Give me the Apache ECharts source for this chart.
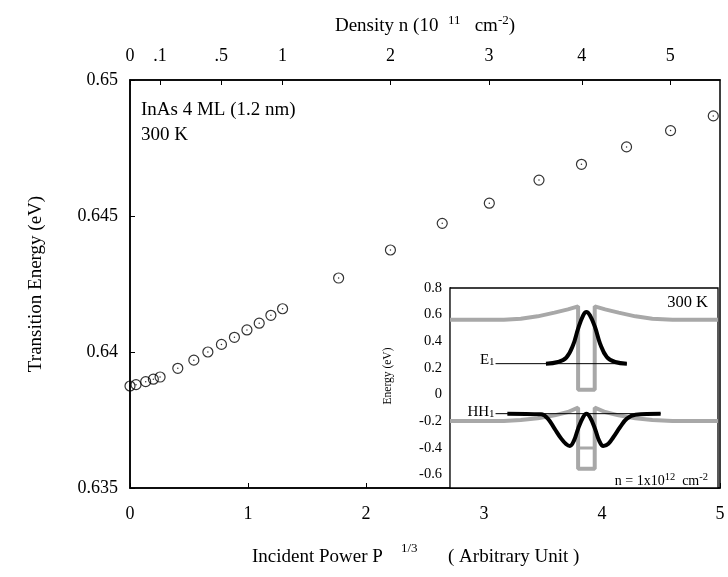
<!DOCTYPE html>
<html><head><meta charset="utf-8">
<script src="https://cdn.jsdelivr.net/npm/echarts@6/dist/echarts.min.js"></script>
<style>html,body{margin:0;padding:0;background:#fff}#c{width:728px;height:577px}</style>
</head><body><div id="c"></div>
<script>
// ---- main data: Incident Power P^1/3 vs transition energy (eV)
const powerX = [0, 0.051, 0.133, 0.198, 0.255, 0.405, 0.541, 0.660, 0.775, 0.885, 0.991, 1.095, 1.194, 1.293,
                1.768, 2.207, 2.646, 3.045, 3.466, 3.826, 4.208, 4.581, 4.943];
const energyY = [0.63875, 0.63880, 0.63891, 0.63900, 0.63908, 0.63940, 0.63970, 0.64000, 0.64028, 0.64054, 0.64081, 0.64106, 0.64135, 0.64159,
                 0.64272, 0.64375, 0.64473, 0.64547, 0.64632, 0.64690, 0.64754, 0.64814, 0.64868];
// ---- top axis: density n (1e11 cm^-2) tick positions in P^1/3 units
const densityTickPos = [0, 0.255, 0.773, 1.293, 2.207, 3.042, 3.829, 4.579];
const densityTickLabels = ['0', '.1', '.5', '1', '2', '3', '4', '5'];
const energyTicks = [0.635, 0.64, 0.645, 0.65];
const powerTicks = [0, 1, 2, 3, 4, 5];

// ---- inset: band profile (position in % of inset width, energy eV)
const cbPos = [0, 20.1, 26.4, 32.7, 39.0, 44.0, 47.8, 47.8, 54.0, 54.0, 57.9, 62.9, 69.2, 75.5, 83.0, 100];
const cbE   = [0.5625, 0.5625, 0.57, 0.5875, 0.615, 0.64, 0.6625, 0.0375, 0.0375, 0.6625, 0.64, 0.615, 0.5875, 0.57, 0.5625, 0.5625];
const vbPos = [0, 20.1, 26.4, 32.7, 39.0, 44.0, 47.8, 47.8, 54.0, 54.0, 57.9, 62.9, 69.2, 75.5, 83.0, 100];
const vbE   = [-0.1975, -0.1975, -0.19, -0.1775, -0.155, -0.13, -0.0975, -0.555, -0.555, -0.0975, -0.13, -0.155, -0.1775, -0.19, -0.1975, -0.1975];
const lhPos = [47.8, 54.0];
const lhE   = [-0.40, -0.40];
const e1Pos = [35.8, 40.3, 43.4, 45.9, 47.8, 49.7, 50.9, 52.2, 54.1, 56.0, 58.5, 61.6, 66.0];
const e1Psi = [0.2325, 0.245, 0.2775, 0.37, 0.495, 0.595, 0.62, 0.595, 0.5075, 0.3825, 0.2825, 0.245, 0.2325];
const hhPos = [21.4, 34.0, 36.5, 39.0, 41.5, 43.4, 44.7, 46.3, 47.8, 49.7, 50.9, 52.2, 54.1, 55.6, 57.2, 59.1, 61.0, 63.5, 66.0, 69.2, 78.6];
const hhPsi = [-0.1425, -0.1475, -0.18, -0.255, -0.33, -0.3725, -0.385, -0.3425, -0.255, -0.1675, -0.1425, -0.1675, -0.255, -0.3425, -0.385, -0.3675, -0.3175, -0.2425, -0.18, -0.15, -0.1425];
const e1Level = [[17, 0.2325], [66, 0.2325]];
const hhLevel = [[17, -0.1425], [78.6, -0.1425]];
const insetTicks = [-0.6, -0.4, -0.2, 0, 0.2, 0.4, 0.6, 0.8];

const zip = (a, b) => a.map((v, i) => [v, b[i]]);
const FONT = 'Liberation Serif';
const GRAY = '#a8a8a8';

const chart = echarts.init(document.getElementById('c'));
const option = {
  animation: false,
  backgroundColor: '#fff',
  textStyle: { fontFamily: FONT, color: '#000' },
  grid: [
    { left: 130, top: 80, width: 590, height: 408, show: true, borderColor: '#000', borderWidth: 1.5, backgroundColor: 'transparent' },
    { left: 450, top: 288, width: 268, height: 200, show: true, borderColor: '#000', borderWidth: 1.3, backgroundColor: '#fff', z: 5 }
  ],
  xAxis: [
    { type: 'value', gridIndex: 0, min: 0, max: 5, interval: 1, position: 'bottom',
      axisLine: { show: true, lineStyle: { color: '#000', width: 1.5 } },
      axisTick: { show: true, inside: true, length: 5, lineStyle: { color: '#000' }, customValues: powerTicks },
      axisLabel: { fontFamily: FONT, fontSize: 18, color: '#000', margin: 17, customValues: powerTicks },
      splitLine: { show: false } },
    { type: 'value', gridIndex: 0, min: 0, max: 5, position: 'top',
      axisLine: { show: true, lineStyle: { color: '#000', width: 1.5 } },
      axisTick: { show: true, inside: true, length: 5, lineStyle: { color: '#000' }, customValues: densityTickPos },
      axisLabel: { fontFamily: FONT, fontSize: 18, color: '#000', margin: 15, customValues: densityTickPos,
        formatter: v => { const i = densityTickPos.findIndex(p => Math.abs(p - v) < 1e-6); return i >= 0 ? densityTickLabels[i] : ''; } },
      splitLine: { show: false } },
    { type: 'value', gridIndex: 1, min: 0, max: 100, show: false }
  ],
  yAxis: [
    { type: 'value', gridIndex: 0, min: 0.635, max: 0.65, interval: 0.005,
      axisLine: { show: true, lineStyle: { color: '#000', width: 1.5 } },
      axisTick: { show: true, inside: true, length: 5, lineStyle: { color: '#000' }, customValues: energyTicks },
      axisLabel: { fontFamily: FONT, fontSize: 18, color: '#000', margin: 12, customValues: energyTicks,
        formatter: v => String(+v.toFixed(3)) },
      splitLine: { show: false } },
    { type: 'value', gridIndex: 1, min: -0.7, max: 0.8,
      axisLine: { show: true, lineStyle: { color: '#000', width: 1.3 } },
      axisTick: { show: true, inside: true, length: 4, lineStyle: { color: '#000' }, customValues: insetTicks },
      axisLabel: { fontFamily: FONT, fontSize: 14.5, color: '#000', margin: 8, customValues: insetTicks,
        formatter: v => Math.abs(v) < 1e-9 ? '0' : v.toFixed(1) },
      splitLine: { show: false } }
  ],
  series: [
    { type: 'scatter', xAxisIndex: 0, yAxisIndex: 0, data: zip(powerX, energyY), symbol: 'circle', symbolSize: 10,
      itemStyle: { color: 'rgba(255,255,255,0)', borderColor: '#000', borderWidth: 1.2 }, z: 3 },
    { type: 'scatter', xAxisIndex: 0, yAxisIndex: 0, data: zip(powerX, energyY), symbol: 'circle', symbolSize: 1.5,
      itemStyle: { color: '#000' }, z: 3 },
    { type: 'line', xAxisIndex: 2, yAxisIndex: 1, data: zip(cbPos, cbE), showSymbol: false, lineStyle: { color: GRAY, width: 4 }, z: 6 },
    { type: 'line', xAxisIndex: 2, yAxisIndex: 1, data: zip(vbPos, vbE), showSymbol: false, lineStyle: { color: GRAY, width: 4 }, z: 6 },
    { type: 'line', xAxisIndex: 2, yAxisIndex: 1, data: zip(lhPos, lhE), showSymbol: false, lineStyle: { color: GRAY, width: 3 }, z: 6 },
    { type: 'line', xAxisIndex: 2, yAxisIndex: 1, data: e1Level, showSymbol: false, lineStyle: { color: '#000', width: 1 }, z: 7 },
    { type: 'line', xAxisIndex: 2, yAxisIndex: 1, data: hhLevel, showSymbol: false, lineStyle: { color: '#000', width: 1 }, z: 7 },
    { type: 'line', xAxisIndex: 2, yAxisIndex: 1, data: zip(e1Pos, e1Psi), smooth: 0.4, showSymbol: false, lineStyle: { color: '#000', width: 4 }, z: 8 },
    { type: 'line', xAxisIndex: 2, yAxisIndex: 1, data: zip(hhPos, hhPsi), smooth: 0.4, showSymbol: false, lineStyle: { color: '#000', width: 4 }, z: 8 }
  ]
};
chart.setOption(option);

const e1px = chart.convertToPixel({ gridIndex: 1 }, e1Level[0]);
const hhpx = chart.convertToPixel({ gridIndex: 1 }, hhLevel[0]);
const T = (o) => Object.assign({ type: 'text', z: 20 }, o);
chart.setOption({
  graphic: [
    T({ left: 141, top: 101, style: { text: 'InAs 4 ML (1.2 nm)', font: '19px ' + FONT, fill: '#000' } }),
    T({ left: 141, top: 126, style: { text: '300 K', font: '19px ' + FONT, fill: '#000' } }),
    T({ x: 425, y: 26, style: { text: 'Density n (10  {s|11}   cm{s|-2})', font: '19px ' + FONT, fill: '#000', align: 'center', verticalAlign: 'middle',
        rich: { s: { fontSize: 13, fontFamily: FONT, padding: [0, 0, 10, 0] } } } }),
    T({ x: 252, y: 557, style: { text: 'Incident Power P', font: '19px ' + FONT, fill: '#000', align: 'left', verticalAlign: 'middle' } }),
    T({ x: 401, y: 549, style: { text: '1/3', font: '13px ' + FONT, fill: '#000', align: 'left', verticalAlign: 'middle' } }),
    T({ x: 448, y: 557, style: { text: '( Arbitrary Unit )', font: '19px ' + FONT, fill: '#000', align: 'left', verticalAlign: 'middle' } }),
    T({ x: 36, y: 284, rotation: Math.PI / 2, style: { text: 'Transition Energy (eV)', font: '19px ' + FONT, fill: '#000', align: 'center', verticalAlign: 'middle' } }),
    T({ x: 388, y: 376, rotation: Math.PI / 2, style: { text: 'Energy (eV)', font: '11.5px ' + FONT, fill: '#000', align: 'center', verticalAlign: 'middle' } }),
    T({ x: 708, y: 303, style: { text: '300 K', font: '16.5px ' + FONT, fill: '#000', align: 'right', verticalAlign: 'middle' } }),
    T({ x: 708, y: 481, style: { text: 'n = 1x10{s|12}  cm{s|-2}', font: '14px ' + FONT, fill: '#000', align: 'right', verticalAlign: 'middle',
        rich: { s: { fontSize: 10.5, fontFamily: FONT, padding: [0, 0, 8, 0] } } } }),
    T({ x: e1px[0] - 1, y: e1px[1] - 4, style: { text: 'E{s|1}', font: '15px ' + FONT, fill: '#000', align: 'right', verticalAlign: 'middle',
        rich: { s: { fontSize: 11, fontFamily: FONT, padding: [4, 0, 0, 0] } } } }),
    T({ x: hhpx[0] - 1, y: hhpx[1] - 2, style: { text: 'HH{s|1}', font: '15px ' + FONT, fill: '#000', align: 'right', verticalAlign: 'middle',
        rich: { s: { fontSize: 11, fontFamily: FONT, padding: [4, 0, 0, 0] } } } })
  ]
});
</script>
</body></html>
